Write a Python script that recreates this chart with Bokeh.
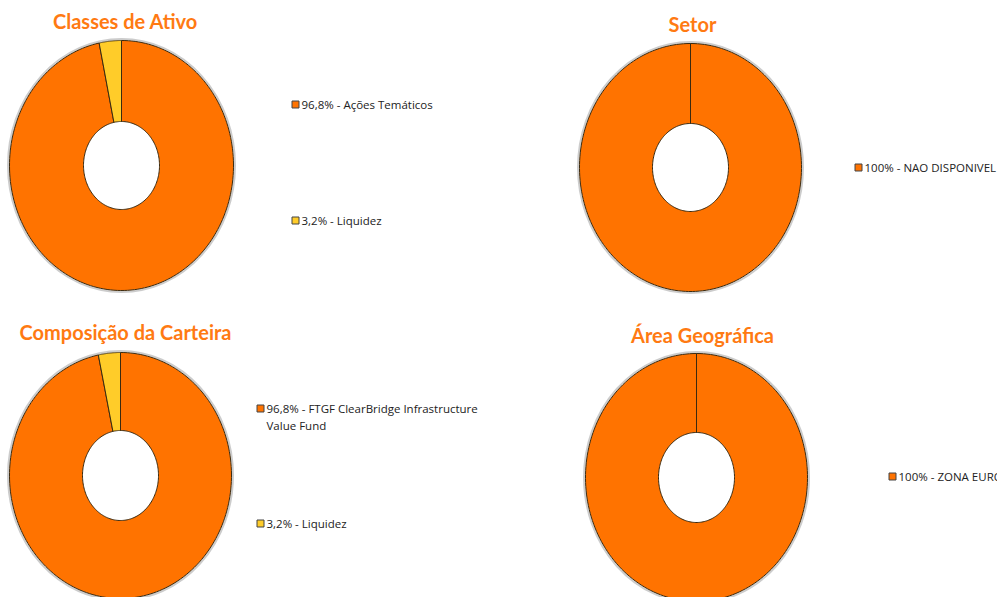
import numpy as np
from bokeh.plotting import figure
from bokeh.models import Range1d, ColumnDataSource
from bokeh.core.properties import value
from bokeh.embed import file_html
from bokeh.resources import INLINE

# ---- data ----
asset_labels = ["96,8% - Ações Temáticos", "3,2% - Liquidez"]
asset_values = [96.8, 3.2]
sector_labels = ["100% - NAO DISPONIVEL"]
sector_values = [100.0]
portfolio_labels = ["96,8% - FTGF ClearBridge Infrastructure\nValue Fund", "3,2% - Liquidez"]
portfolio_values = [96.8, 3.2]
geo_labels = ["100% - ZONA EURO"]
geo_values = [100.0]
titles = ["Classes de Ativo", "Setor", "Composição da Carteira", "Área Geográfica"]

ORANGE = "#FF7300"
YELLOW = "#FFCC29"
COLORS = [ORANGE, YELLOW]
TITLE_C = "#FF7A12"
FONT = "Open Sans"
TFONT = "Lato"

p = figure(width=997, height=597, output_backend="svg", toolbar_location=None,
           x_range=Range1d(0, 997), y_range=Range1d(597, 0), min_border=0)
p.axis.visible = False
p.grid.visible = False
p.outline_line_color = None
p.background_fill_color = "white"
p.border_fill_color = "white"


def donut(cx, cy, rx, ry, irx, iry, values):
    vals = np.array(values, dtype=float)
    fr = np.cumsum(np.concatenate([[0], vals])) / vals.sum() * 2 * np.pi
    xs, ys, cols = [], [], []
    for i in range(len(vals)):
        t = np.linspace(fr[i], fr[i + 1], 200)
        ox = cx + rx * np.sin(t); oy = cy - ry * np.cos(t)
        ix = cx + irx * np.sin(t[::-1]); iy = cy - iry * np.cos(t[::-1])
        xs.append(np.concatenate([ox, ix]).tolist())
        ys.append(np.concatenate([oy, iy]).tolist())
        cols.append(COLORS[i % len(COLORS)])
    # soft shadow ring
    p.ellipse(x=cx, y=cy, width=2 * rx + 3, height=2 * ry + 3, fill_color=None,
              line_color="#999999", line_alpha=0.5, line_width=2)
    src = ColumnDataSource(dict(xs=xs, ys=ys, c=cols))
    p.patches("xs", "ys", source=src, fill_color="c", line_color="#3a2a10", line_width=1)


def legend(x, ys, labels):
    for i, (yy, lab) in enumerate(zip(ys, labels)):
        p.rect(x=x, y=yy, width=7, height=7, fill_color=COLORS[i % len(COLORS)],
               line_color="#444444", line_width=1)
        for j, line in enumerate(lab.split("\n")):
            p.text(x=x + 6, y=yy + 17 * j, text=[line], text_font=value(FONT),
                   text_font_size="11.5px", text_color="#222222",
                   text_baseline="middle", text_align="left")


def title(x, y, t):
    p.text(x=x, y=y, text=[t], text_font=value(TFONT), text_font_size="20px",
           text_font_style="bold", text_color=TITLE_C, text_align="center",
           text_baseline="middle")


donut(121, 165, 112, 125, 38, 44, asset_values)
donut(690, 167, 111, 124, 38, 44, sector_values)
donut(120, 475, 111, 123, 38, 45, portfolio_values)
donut(696, 477, 111, 124, 38, 45, geo_values)

title(125, 20, titles[0])
title(692, 23, titles[1])
title(125, 331, titles[2])
title(702, 334, titles[3])

legend(295, [104, 220], asset_labels)
legend(858, [167], sector_labels)
legend(260, [408, 523], portfolio_labels)
legend(892, [476], geo_labels)

open("out.html", "w").write(file_html(p, INLINE))
